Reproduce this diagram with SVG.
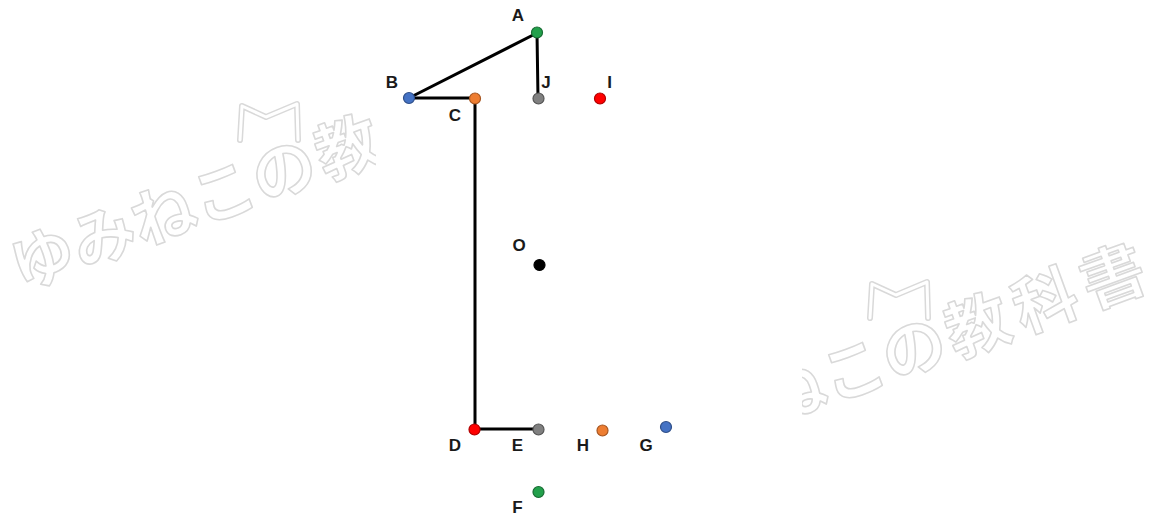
<svg xmlns="http://www.w3.org/2000/svg" width="1164" height="519" viewBox="0 0 1164 519">
<style>
.wm{font-family:"Noto Sans CJK JP","Noto Sans CJK SC",sans-serif;font-weight:700;font-size:64px;fill:#fff;stroke:#d9d9d9;stroke-width:1.6;stroke-linejoin:round}
.ear1{fill:none;stroke:#d9d9d9;stroke-width:6;stroke-linecap:round;stroke-linejoin:round}
.ear2{fill:none;stroke:#fff;stroke-width:3;stroke-linecap:round;stroke-linejoin:round}
.lbl{font-family:"Liberation Sans",Arial,sans-serif;font-weight:700;font-size:17px;fill:#1a1a1a;text-anchor:middle}
.edge{stroke:#000;stroke-width:3;stroke-linecap:round;fill:none}
.pt{stroke-width:1.2}
</style>
<defs>
<clipPath id="cl"><rect x="0" y="0" width="376" height="519"/></clipPath>
<clipPath id="cr"><rect x="802" y="0" width="362" height="519"/></clipPath>
</defs>
<rect width="1164" height="519" fill="#fff"/>
<g id="watermark-left" clip-path="url(#cl)">
<path class="ear1" d="M240,140 L242,106 L266,117 L297,104 L298,140"/>
<path class="ear2" d="M240,140 L242,106 L266,117 L297,104 L298,140"/>
<text class="wm" transform="translate(21,291) rotate(-20)">ゆみねこの<tspan dx="4">教</tspan><tspan dx="8">科</tspan><tspan dx="8">書</tspan></text>
</g>
<g id="watermark-right" clip-path="url(#cr)">
<path class="ear1" d="M870,318 L872,284 L896,295 L927,282 L928,318"/>
<path class="ear2" d="M870,318 L872,284 L896,295 L927,282 L928,318"/>
<text class="wm" transform="translate(651,469) rotate(-20)">ゆみねこの<tspan dx="4">教</tspan><tspan dx="8">科</tspan><tspan dx="8">書</tspan></text>
</g>
<g id="connectors">
<line class="edge" x1="537" y1="33" x2="409" y2="98"/>
<line class="edge" x1="409" y1="98" x2="475" y2="98"/>
<line class="edge" x1="537" y1="33" x2="538" y2="98"/>
<line class="edge" x1="475" y1="98" x2="475" y2="429"/>
<line class="edge" x1="475" y1="429" x2="538" y2="429"/>
</g>
<g id="node-A"><circle class="pt" cx="537" cy="32.5" r="5.5" fill="#22a04b" stroke="#176b33"/><text class="lbl" x="518" y="21">A</text></g>
<g id="node-B"><circle class="pt" cx="409" cy="98" r="5.5" fill="#4472c4" stroke="#2f4f88"/><text class="lbl" x="392" y="88">B</text></g>
<g id="node-C"><circle class="pt" cx="475" cy="98.5" r="5.5" fill="#ed7d31" stroke="#a65621"/><text class="lbl" x="455" y="121">C</text></g>
<g id="node-J"><circle class="pt" cx="538.5" cy="98.5" r="5.5" fill="#808080" stroke="#555"/><text class="lbl" x="546" y="88">J</text></g>
<g id="node-I"><circle class="pt" cx="600" cy="98.5" r="5.5" fill="#ff0000" stroke="#b00000"/><text class="lbl" x="609.5" y="88">I</text></g>
<g id="node-O"><circle class="pt" cx="539.5" cy="265" r="5.5" fill="#000" stroke="#000"/><text class="lbl" x="519" y="251">O</text></g>
<g id="node-D"><circle class="pt" cx="474.5" cy="429.5" r="5.5" fill="#ff0000" stroke="#b00000"/><text class="lbl" x="455" y="451">D</text></g>
<g id="node-E"><circle class="pt" cx="538.5" cy="429.5" r="5.5" fill="#808080" stroke="#555"/><text class="lbl" x="517.5" y="451">E</text></g>
<g id="node-H"><circle class="pt" cx="602.5" cy="430.5" r="5.5" fill="#ed7d31" stroke="#a65621"/><text class="lbl" x="583" y="451">H</text></g>
<g id="node-G"><circle class="pt" cx="666" cy="427" r="5.5" fill="#4472c4" stroke="#2f4f88"/><text class="lbl" x="646" y="451">G</text></g>
<g id="node-F"><circle class="pt" cx="538.5" cy="492" r="5.5" fill="#22a04b" stroke="#176b33"/><text class="lbl" x="517.5" y="513">F</text></g>
</svg>
